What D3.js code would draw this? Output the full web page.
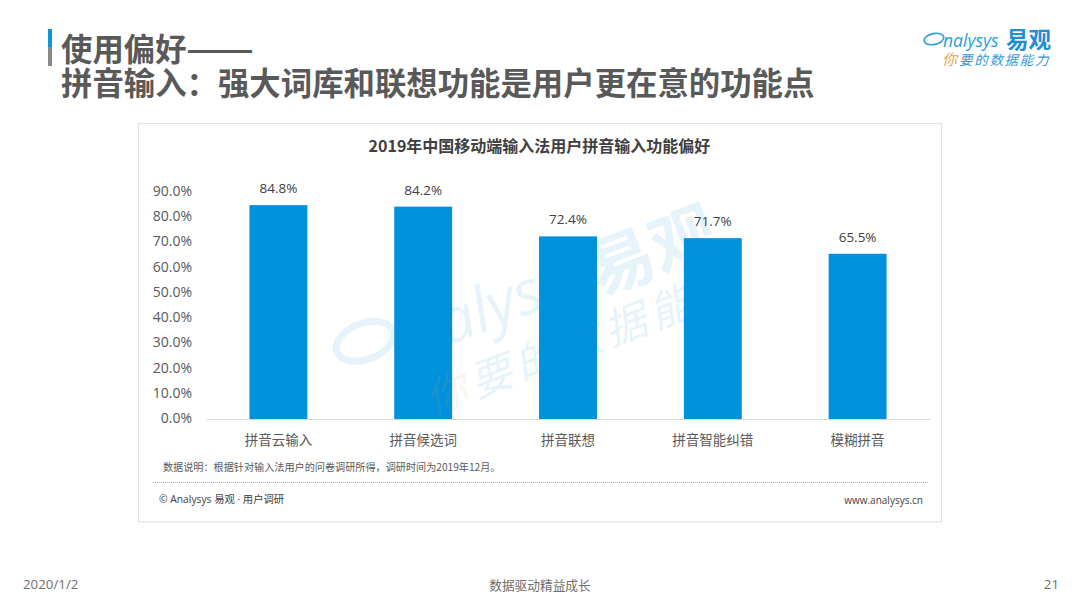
<!DOCTYPE html>
<html>
<head>
<meta charset="utf-8">
<script src="https://cdn.jsdelivr.net/npm/d3@7"></script>
<style>
  html, body { margin: 0; padding: 0; background: #fff; }
  text { font-family: "Noto Sans CJK SC", "Open Sans", sans-serif; }
  .latin { font-family: "Open Sans", "Noto Sans CJK SC", sans-serif; }
</style>
</head>
<body>
<div id="chart"></div>
<script>
const categories = ["拼音云输入", "拼音候选词", "拼音联想", "拼音智能纠错", "模糊拼音"];
const values = [84.8, 84.2, 72.4, 71.7, 65.5];
const yTicks = [0, 10, 20, 30, 40, 50, 60, 70, 80, 90];

const width = 1080, height = 608;
const svg = d3.select("#chart").append("svg")
    .attr("width", width).attr("height", height)
    .style("display", "block");

// slide title and the small bar beside it
svg.append("rect").attr("x", 48).attr("y", 29).attr("width", 4).attr("height", 18).attr("fill", "#0f95dc");
svg.append("rect").attr("x", 48).attr("y", 47).attr("width", 4).attr("height", 19).attr("fill", "#8a8a8a");
const titleStyle = sel => sel.attr("font-size", 31.4).attr("font-weight", 700).attr("fill", "#595959");
svg.append("text").attr("x", 61).attr("y", 61).call(titleStyle).text("使用偏好");
// the dash runs longer in the reference than in this font
svg.append("text").attr("x", 186).attr("y", 61).call(titleStyle)
    .attr("textLength", 68).attr("lengthAdjust", "spacingAndGlyphs").text("——");
svg.append("text").attr("x", 61).attr("y", 95).call(titleStyle)
    .text("拼音输入：强大词库和联想功能是用户更在意的功能点");

// logo, top right
const logo = svg.append("g");
logo.append("ellipse").attr("cx", 934).attr("cy", 39).attr("rx", 10).attr("ry", 5.5)
    .attr("transform", "rotate(-12 934 39)")
    .attr("fill", "none").attr("stroke", "#2a9fdc").attr("stroke-width", 1.6);
logo.append("text").attr("class", "latin").attr("x", 943).attr("y", 47)
    .attr("font-size", 17.5).attr("font-style", "italic").attr("fill", "#2a9fdc").text("nalysys");
logo.append("text").attr("x", 1006).attr("y", 48)
    .attr("font-size", 22.5).attr("font-weight", 700).attr("fill", "#1f8fd6").text("易观");
logo.append("text").attr("x", 942).attr("y", 65)
    .attr("font-size", 15).attr("font-style", "italic").attr("fill", "#e8a35a").text("你");
logo.append("text").attr("x", 959).attr("y", 65)
    .attr("font-size", 13.5).attr("font-style", "italic").attr("letter-spacing", 1.7).attr("fill", "#3a9ad9").text("要的数据能力");

// chart card
svg.append("rect").attr("x", 138.5).attr("y", 123.5).attr("width", 803).attr("height", 398.5)
    .attr("fill", "#fff").attr("stroke", "#e3e3e3").attr("stroke-width", 1.2);

// scales
const x = d3.scaleBand().domain(categories).range([206, 930]).paddingInner(0.6).paddingOuter(0.3);
const y = d3.scaleLinear().domain([0, 90]).range([419, 192]);

svg.append("text").attr("x", 539.5).attr("y", 152)
    .attr("text-anchor", "middle").attr("font-size", 16).attr("font-weight", 700).attr("fill", "#404040")
    .text("2019年中国移动端输入法用户拼音输入功能偏好");

// y axis, labels only
const yAxis = svg.append("g").attr("transform", "translate(192,-1)")
    .call(d3.axisLeft(y).tickValues(yTicks).tickSize(0).tickPadding(0).tickFormat(d => d3.format(".1f")(d) + "%"));
yAxis.select(".domain").remove();
yAxis.selectAll("text").attr("class", "latin").attr("font-size", 14).attr("fill", "#595959");

// bars
svg.selectAll("rect.bar").data(values).join("rect")
    .attr("class", "bar")
    .attr("x", (d, i) => x(categories[i]))
    .attr("y", d => y(d))
    .attr("width", x.bandwidth())
    .attr("height", d => y(0) - y(d))
    .attr("fill", "#0091dc");

svg.selectAll("text.value").data(values).join("text")
    .attr("class", "value latin")
    .attr("x", (d, i) => x(categories[i]) + x.bandwidth() / 2)
    .attr("y", d => y(d) - 12)
    .attr("text-anchor", "middle")
    .attr("font-size", 13.5)
    .attr("fill", "#404040")
    .text(d => d.toFixed(1) + "%");

// x axis
const xAxis = svg.append("g").attr("transform", "translate(0,419)")
    .call(d3.axisBottom(x).tickSize(0).tickPadding(16));
xAxis.select(".domain").attr("stroke", "#d9d9d9");
xAxis.selectAll("text").attr("font-size", 13.5).attr("fill", "#595959");

// watermark lies over the bars at low alpha, so it barely tints them
const mark = svg.append("g").attr("transform", "translate(525,312) rotate(-21)")
    .attr("fill", "#1a90d8").attr("opacity", 0.1);
mark.append("ellipse").attr("cx", -160).attr("cy", -30).attr("rx", 30).attr("ry", 18)
    .attr("fill", "none").attr("stroke", "#1a90d8").attr("stroke-width", 7);
mark.append("text").attr("class", "latin").attr("x", -120).attr("y", 4)
    .attr("font-size", 62).attr("font-style", "italic").text("nalysys");
mark.append("text").attr("x", 75).attr("y", 12).attr("font-size", 66).attr("font-weight", 700).text("易观");
const markLine = mark.append("text").attr("x", -124).attr("y", 63).attr("font-size", 42)
    .attr("font-style", "italic").attr("letter-spacing", 6);
markLine.append("tspan").attr("fill", "#e8a35a").text("你");
markLine.append("tspan").text("要的数据能力");

// note and card footer
svg.append("text").attr("x", 163).attr("y", 471).attr("font-size", 10.15).attr("fill", "#595959")
    .text("数据说明：根据针对输入法用户的问卷调研所得，调研时间为2019年12月。");
svg.append("line").attr("x1", 153).attr("x2", 928).attr("y1", 482.5).attr("y2", 482.5)
    .attr("stroke", "#8c8c8c").attr("stroke-width", 0.7).attr("stroke-dasharray", "1 1");
svg.append("text").attr("class", "latin").attr("x", 159).attr("y", 503).attr("font-size", 10.3).attr("fill", "#404040")
    .text("© Analysys 易观 · 用户调研");
svg.append("text").attr("class", "latin").attr("x", 923).attr("y", 504).attr("text-anchor", "end")
    .attr("font-size", 10).attr("fill", "#404040").text("www.analysys.cn");

// slide footer
svg.append("text").attr("class", "latin").attr("x", 23).attr("y", 589).attr("font-size", 13.3).attr("fill", "#6e6e6e").text("2020/1/2");
svg.append("text").attr("x", 540).attr("y", 590).attr("text-anchor", "middle").attr("font-size", 12.7).attr("fill", "#6e6e6e").text("数据驱动精益成长");
svg.append("text").attr("class", "latin").attr("x", 1059).attr("y", 589).attr("text-anchor", "end").attr("font-size", 13.3).attr("fill", "#6e6e6e").text("21");
</script>
</body>
</html>
